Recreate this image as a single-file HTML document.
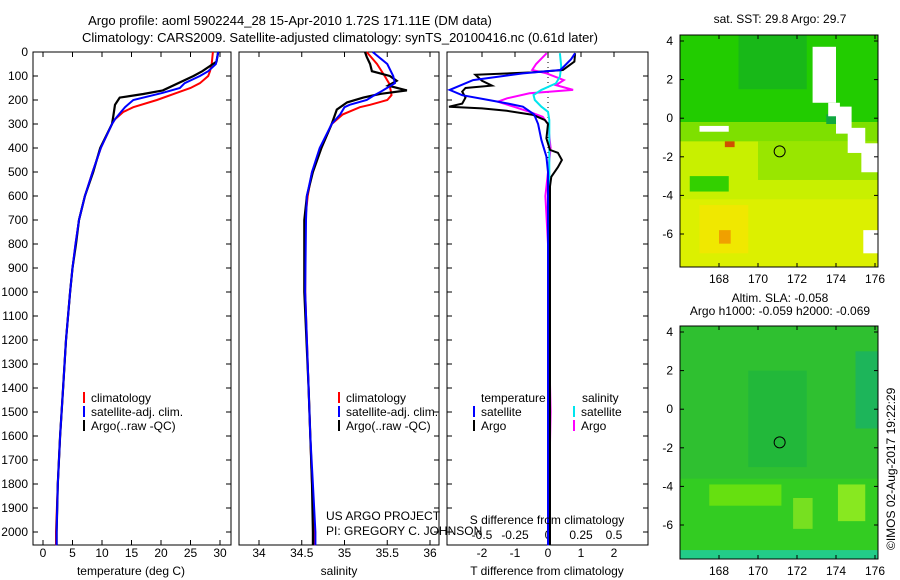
<!DOCTYPE html>
<html><head><meta charset="utf-8">
<style>
body{margin:0;background:#fff;}
svg{display:block;font-family:"Liberation Sans",sans-serif;}
text{font-size:12px;fill:#000;}
</style></head>
<body>
<svg id="fig" width="900" height="580" viewBox="0 0 900 580">
<defs>
<clipPath id="clipm1"><rect x="680" y="35" width="198" height="232"/></clipPath>
<clipPath id="clipm2"><rect x="680" y="326" width="198" height="233"/></clipPath>
</defs>
<text x="290" y="25" text-anchor="middle" style="font-size:13px">Argo profile: aoml 5902244_28 15-Apr-2010 1.72S 171.11E (DM data)</text>
<text x="340" y="42" text-anchor="middle" style="font-size:13px">Climatology: CARS2009. Satellite-adjusted climatology: synTS_20100416.nc (0.61d later)</text>
<g id="g1"></g>
<g id="g2"></g>
<g id="g3"></g>
<g id="m1"></g>
<g id="m2"></g>
<text x="326" y="520">US ARGO PROJECT</text>
<text x="326" y="535">PI: GREGORY C. JOHNSON</text>
<text transform="translate(895,550) rotate(-90)">©IMOS 02-Aug-2017 19:22:29</text>
</svg>
<script>
// ---- data ----
const tempDepth=[0,50,80,100,130,150,170,200,230,250,280,300,400,500,600,700,800,900,1000,1200,1400,1600,1800,2000,2055];
const tempClim=[28.8,28.6,28.3,28.0,26.6,25,22.7,19.3,15.3,13.6,12.2,11.7,9.8,8.4,7.1,6.1,5.5,5.0,4.6,3.9,3.4,2.9,2.5,2.2,2.2];
const tempSat=[29.7,29.3,28.0,26.6,24.0,23.2,20.3,15.3,13.9,13.2,12.2,11.7,9.8,8.4,7.1,6.1,5.5,5.0,4.6,3.9,3.4,2.9,2.5,2.3,2.3];
const argoDepth=[0,40,80,100,160,175,190,220,270,300,400,500,600,700,800,900,1000,1200,1400,1600,1800,2000,2055];
const tempArgo=[29.7,29.4,27.0,25.5,20.3,17.0,13.0,12.2,11.9,11.7,9.7,8.5,7.1,6.1,5.6,5.0,4.6,3.9,3.4,2.9,2.5,2.3,2.3];
const salDepth=[0,50,100,130,160,180,200,220,230,260,300,400,500,600,700,1000,1200,1400,1600,1800,2000,2055];
const salClim=[35.26,35.38,35.47,35.52,35.54,35.55,35.50,35.30,35.18,34.98,34.85,34.73,34.62,34.57,34.54,34.54,34.56,34.58,34.60,34.62,34.65,34.65];
const salSat=[35.33,35.50,35.57,35.59,35.45,35.35,35.26,35.06,35.00,34.95,34.85,34.71,34.62,34.56,34.55,34.54,34.56,34.58,34.60,34.63,34.66,34.66];
const salArgoDepth=[0,20,50,80,100,120,140,160,175,190,210,240,300,400,500,600,700,1000,1400,1600,1800,2000,2055];
const salArgo=[35.24,35.26,35.30,35.32,35.53,35.61,35.51,35.73,35.41,35.22,35.03,34.91,34.85,34.73,34.63,34.56,34.53,34.53,34.58,34.60,34.62,34.63,34.63];
const dTDepth=[5,40,75,85,95,120,140,150,165,190,215,228,235,245,262,283,300,360,408,420,450,480,520,560,600,700,1000,2055];
const dTArgo=[0.82,0.80,0.45,-0.5,-2.2,-2.0,-1.7,-2.5,-2.6,-2.5,-2.6,-3.0,-2.0,-1.25,-0.45,-0.1,0.0,-0.05,0.06,0.3,0.42,0.3,0.1,0.06,0.06,0.06,0.06,0.06];
const dTSatDepth=[5,30,75,89,117,158,180,200,215,228,260,300,367,436,500,700,2055];
const dTSat=[0.82,0.7,0.38,-0.76,-2.27,-2.98,-2.6,-1.8,-1.2,-0.76,-0.42,-0.3,-0.2,-0.05,0.0,0.0,0.0];
const dSDepth=[5,50,75,89,117,138,158,172,193,207,228,249,270,300,400,600,800,1000,1500,2055];
const dSArgo=[-0.01,-0.09,-0.12,-0.01,0.12,0.06,0.19,-0.14,-0.31,-0.38,-0.26,-0.14,-0.04,0.0,0.02,-0.02,0.0,0.0,0.02,0.0];
const dSSatDepth=[5,60,103,131,158,179,200,228,249,283,400,1000,2055];
const dSSat=[0.09,0.10,0.09,0.06,-0.05,-0.11,-0.10,-0.05,0.0,0.01,0.01,0.01,0.01];
const depthTicks=[0,100,200,300,400,500,600,700,800,900,1000,1100,1200,1300,1400,1500,1600,1700,1800,1900,2000];
const tempTicks=[0,5,10,15,20,25,30];
const salTicks=[34,34.5,35,35.5,36];
const dTTicks=[-2,-1,0,1,2];
const dSTicks=[-0.5,-0.25,0,0.25,0.5];
const dSTickLabels=["-0.5","-0.25","0","0.25","0.5"];
const latTicks=[4,2,0,-2,-4,-6];
const lonTicks=[168,170,172,174,176];
const argoLon=171.11, argoLat=-1.72;

const NS="http://www.w3.org/2000/svg";
function mk(p,t,a,txt){const e=document.createElementNS(NS,t);for(const k in a)e.setAttribute(k,a[k]);if(txt!==undefined)e.textContent=txt;p.appendChild(e);return e;}
const yD=d=>52+d*0.24;
const TOP=52,BOT=545;
function frame(g,x0,x1,name){
  const r=mk(g,'rect',{x:x0,y:TOP,width:x1-x0,height:BOT-TOP,fill:'#fff',stroke:'#000','stroke-width':1});
  
  
}
function line(g,xs,ds,fx,color,name,w){
  const pts=xs.map((v,i)=>fx(v).toFixed(1)+','+yD(ds[i]).toFixed(1)).join(' ');
  const p=mk(g,'polyline',{points:pts,fill:'none',stroke:color,'stroke-width':w||2});
  
  
}
function xticks(g,ticks,fx,labels,ly,top,bot){
  ticks.forEach((t,i)=>{const x=fx(t);
    if(top)mk(g,'line',{x1:x,x2:x,y1:TOP,y2:TOP+5,stroke:'#000'});
    if(bot)mk(g,'line',{x1:x,x2:x,y1:BOT-5,y2:BOT,stroke:'#000'});
    const tx=mk(g,'text',{x:x,y:ly,'text-anchor':'middle'},labels?labels[i]:String(t));
    
    
  });
}
function legend(g,x,y,items){
  items.forEach((it,i)=>{
    mk(g,'line',{x1:x,x2:x,y1:y+i*14-10,y2:y+i*14+1,stroke:it[1],'stroke-width':2});
    const t=mk(g,'text',{x:x+7,y:y+i*14},it[0]);
    
    
  });
}
// panel 1
const g1=document.getElementById('g1');
const fT=v=>43+v*5.9;
frame(g1,33,231,'temperature-plot-area');
depthTicks.forEach(d=>{const y=yD(d);
  mk(g1,'line',{x1:33,x2:38,y1:y,y2:y,stroke:'#000'});mk(g1,'line',{x1:226,x2:231,y1:y,y2:y,stroke:'#000'});
  const t=mk(g1,'text',{x:28,y:y+4,'text-anchor':'end'},String(d));
  
  
});
xticks(g1,tempTicks,fT,null,557,true,true);
line(g1,tempClim,tempDepth,fT,'#ff0000','temp-climatology-line');
line(g1,tempArgo,argoDepth,fT,'#000','temp-argo-line',2.2);
line(g1,tempSat,tempDepth,fT,'#0000ff','temp-satellite-line');
legend(g1,84,402,[['climatology','#f00'],['satellite-adj. clim.','#00f'],['Argo(..raw -QC)','#000']]);
const a1=mk(g1,'text',{x:131,y:575,'text-anchor':'middle'},'temperature (deg C)');

// panel 2
const g2=document.getElementById('g2');
const fS=v=>259+(v-34)*85.5;
frame(g2,239,439,'salinity-plot-area');
depthTicks.forEach(d=>{const y=yD(d);mk(g2,'line',{x1:434,x2:439,y1:y,y2:y,stroke:'#000'});});
xticks(g2,salTicks,fS,null,557,true,true);
line(g2,salClim,salDepth,fS,'#ff0000','salinity-climatology-line');
line(g2,salArgo,salArgoDepth,fS,'#000','salinity-argo-line',2.2);
line(g2,salSat,salDepth,fS,'#0000ff','salinity-satellite-line');
legend(g2,339,402,[['climatology','#f00'],['satellite-adj. clim.','#00f'],['Argo(..raw -QC)','#000']]);
const a2=mk(g2,'text',{x:339,y:575,'text-anchor':'middle'},'salinity');

// panel 3
const g3=document.getElementById('g3');
const fdT=v=>548+v*33, fdS=v=>548+v*132;
frame(g3,447,648,'difference-plot-area');
mk(g3,'line',{x1:548,x2:548,y1:TOP,y2:BOT,stroke:'#000','stroke-dasharray':'1,4'});
depthTicks.forEach(d=>{const y=yD(d);mk(g3,'line',{x1:447,x2:452,y1:y,y2:y,stroke:'#000'});mk(g3,'line',{x1:643,x2:648,y1:y,y2:y,stroke:'#000'});});
xticks(g3,dTTicks,fdT,null,557,true,false);
dSTicks.forEach((t,i)=>{const tx=mk(g3,'text',{x:fdS(t),y:539,'text-anchor':'middle'},dSTickLabels[i]);});
line(g3,dSArgo,dSDepth,fdS,'#ff00ff','s-diff-argo-line');
line(g3,dSSat,dSSatDepth,fdS,'#00e5ee','s-diff-satellite-line');
line(g3,dTArgo,dTDepth,fdT,'#000','t-diff-argo-line');
line(g3,dTSat,dTSatDepth,fdT,'#0000ff','t-diff-satellite-line');
const lt=mk(g3,'text',{x:481,y:402},'temperature');
const ls=mk(g3,'text',{x:582,y:402},'salinity');
legend(g3,474,416,[['satellite','#00f'],['Argo','#000']]);
legend(g3,574,416,[['satellite','#00e5ee'],['Argo','#f0f']]);
const a3=mk(g3,'text',{x:547,y:524,'text-anchor':'middle'},'S difference from climatology');
const a4=mk(g3,'text',{x:547,y:575,'text-anchor':'middle'},'T difference from climatology');
// maps
function map(id,top,bot,yLat4,titles,titleY,kind){
  const g=document.getElementById(id);
  const fx=l=>719+(l-168)*19.5, fy=la=>yLat4+(4-la)*19.3;
  const L=680,R=878;
  titles.forEach((t,i)=>{const e=mk(g,'text',{x:780,y:titleY+i*13,'text-anchor':'middle'},t);});
  const cg=mk(g,'g',{'clip-path':'url(#clip'+id+')'});
  const bg=mk(cg,'rect',{x:L,y:top,width:R-L,height:bot-top,fill:kind==='sst'?'#c8f000':'#33cc22'});
  
  const cell=(l0,la0,l1,la1,c)=>mk(cg,'rect',{x:fx(l0),y:fy(la0),width:fx(l1)-fx(l0),height:fy(la1)-fy(la0),fill:c});
  if(kind==='sst'){
    cell(166,4.6,176.4,-0.2,'#22cc00');
    cell(169,4.4,172.5,1.5,'#18b818');
    cell(166,-0.2,176.4,-1.2,'#7ee000');
    cell(170,-1.2,176.4,-3.2,'#99e600');
    cell(166.5,-3.0,168.5,-3.8,'#33d000');
    cell(166,-4.2,176.4,-8,'#dcf000');
    cell(167,-4.5,169.5,-7,'#f0e800');
    cell(168,-5.8,168.6,-6.5,'#f0a000');
    cell(168.3,-1.2,168.8,-1.5,'#d05000');
    cell(173.5,0.2,174.0,-0.3,'#10a840');
    cell(172.8,3.7,174.0,0.8,'#fff');
    cell(173.6,0.8,174.2,0.1,'#fff');
    cell(174.0,0.6,174.8,-0.8,'#fff');
    cell(174.6,-0.5,175.5,-1.8,'#fff');
    cell(175.3,-1.3,176.3,-2.8,'#fff');
    cell(167,-0.4,168.5,-0.7,'#fff');
    cell(175.4,-5.8,176.3,-7.0,'#fff');
  } else {
    cell(166,4.6,176.4,-3.6,'#2fc030');
    cell(169.5,2,172.5,-3,'#22b83a');
    cell(175,3,176.4,-1,'#1db55a');
    cell(167.5,-3.9,171.2,-5,'#66e010');
    cell(171.8,-4.6,172.8,-6.2,'#77e020');
    cell(174.1,-3.9,175.5,-5.8,'#88e820');
    cell(166,-7.3,176.4,-8,'#22cc88');
  }
  mk(g,'rect',{x:L,y:top,width:R-L,height:bot-top,fill:'none',stroke:'#000'});
  latTicks.forEach(la=>{const y=fy(la);mk(g,'line',{x1:L,x2:L+4,y1:y,y2:y,stroke:'#000'});mk(g,'line',{x1:R-4,x2:R,y1:y,y2:y,stroke:'#000'});
    const t=mk(g,'text',{x:L-7,y:y+4,'text-anchor':'end'},String(la));});
  lonTicks.forEach(lo=>{const x=fx(lo);mk(g,'line',{x1:x,x2:x,y1:top,y2:top+4,stroke:'#000'});mk(g,'line',{x1:x,x2:x,y1:bot-4,y2:bot,stroke:'#000'});
    const t=mk(g,'text',{x:x,y:bot+16,'text-anchor':'middle'},String(lo));});
  const c=mk(g,'circle',{cx:fx(argoLon),cy:fy(argoLat),r:5.5,fill:'none',stroke:'#000'});
  
}
map('m1',35,267,41,['sat. SST: 29.8 Argo: 29.7'],23,'sst');
map('m2',326,559,332,['Altim. SLA: -0.058','Argo h1000: -0.059 h2000: -0.069'],302,'sla');
</script>
</body></html>
